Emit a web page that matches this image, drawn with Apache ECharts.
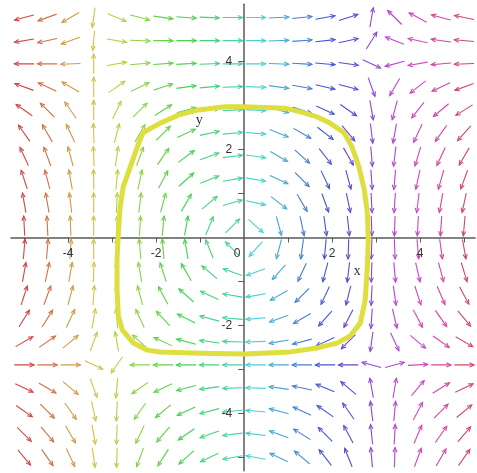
<!DOCTYPE html>
<html>
<head>
<meta charset="utf-8">
<script src="https://cdn.jsdelivr.net/npm/echarts@6/dist/echarts.min.js"></script>
<style>
  html, body { margin: 0; padding: 0; background: #ffffff; }
  #chart { width: 477px; height: 473px; }
</style>
</head>
<body>
<div id="chart"></div>
<script>
// Sample points of the direction field (20 x 20 grid on [-5, 5])
const gridX = [-5, -4.474, -3.947, -3.421, -2.895, -2.368, -1.842, -1.316, -0.789, -0.263,
               0.263, 0.789, 1.316, 1.842, 2.368, 2.895, 3.421, 3.947, 4.474, 5];
const gridY = [5, 4.474, 3.947, 3.421, 2.895, 2.368, 1.842, 1.316, 0.789, 0.263,
               -0.263, -0.789, -1.316, -1.842, -2.368, -2.895, -3.421, -3.947, -4.474, -5];

// Arrow directions in degrees (0 = +x, 90 = +y), one row per gridY value
const fieldAngles = [
  [195, 200, 210, 262, 338, 345, 352, 356, 358, 0, 0, 3, 6, 10, 18, 80, 135, 152, 165, 168],
  [190, 192, 200, 265, 350, 358, 0, 0, 0, 0, 0, 2, 4, 6, 12, 58, 158, 168, 172, 175],
  [180, 180, 182, 90, 10, 5, 4, 3, 2, 0, 0, 358, 357, 355, 352, 335, 195, 190, 185, 182],
  [160, 155, 150, 90, 35, 25, 18, 8, 5, 2, 358, 352, 350, 347, 345, 290, 240, 218, 205, 200],
  [145, 135, 125, 90, 65, 45, 33, 15, 8, 3, 357, 345, 342, 335, 325, 280, 255, 232, 220, 212],
  [125, 120, 115, 92, 75, 60, 45, 25, 12, 5, 355, 338, 330, 322, 310, 277, 260, 245, 235, 228],
  [115, 110, 105, 92, 82, 70, 55, 37, 20, 7, 352, 330, 318, 308, 300, 275, 263, 253, 245, 240],
  [108, 105, 100, 91, 85, 78, 62, 42, 22, 10, 350, 335, 315, 295, 285, 274, 265, 258, 254, 250],
  [100, 100, 97, 90, 87, 83, 75, 60, 40, 16, 348, 322, 300, 290, 282, 273, 266, 263, 260, 258],
  [93, 93, 92, 90, 88, 87, 85, 80, 68, 45, 318, 285, 282, 278, 276, 272, 268, 267, 266, 265],
  [85, 85, 86, 90, 92, 95, 95, 100, 112, 135, 228, 255, 262, 265, 268, 268, 272, 275, 278, 280],
  [80, 78, 80, 88, 93, 100, 108, 120, 140, 160, 200, 228, 245, 255, 263, 268, 275, 283, 285, 287],
  [72, 70, 75, 86, 93, 105, 118, 138, 155, 170, 190, 210, 225, 245, 256, 267, 278, 288, 293, 298],
  [58, 58, 65, 80, 95, 115, 133, 153, 165, 175, 185, 200, 210, 228, 243, 266, 283, 298, 305, 310],
  [30, 35, 40, 70, 100, 138, 155, 165, 172, 178, 182, 190, 195, 205, 225, 262, 295, 320, 325, 330],
  [0, 0, 0, 335, 235, 180, 180, 180, 180, 180, 180, 180, 180, 180, 180, 165, 15, 3, 0, 0],
  [335, 330, 320, 290, 265, 215, 205, 195, 188, 182, 178, 172, 168, 158, 140, 100, 80, 50, 32, 25],
  [325, 315, 305, 282, 267, 235, 220, 205, 195, 185, 175, 165, 155, 145, 125, 97, 85, 62, 45, 40],
  [315, 310, 300, 280, 268, 245, 230, 215, 200, 187, 173, 160, 148, 135, 118, 96, 87, 67, 55, 50],
  [310, 305, 295, 278, 268, 250, 238, 222, 205, 190, 170, 155, 140, 128, 112, 95, 88, 70, 60, 55]
];

// Closed solution curve
const orbitX = [0, -0.43, -1.05, -1.50, -1.91, -2.30, -2.43, -2.59, -2.75, -2.82, -2.86, -2.89, -2.89,
                -2.86, -2.77, -2.52, -2.20, -1.91, -1.00, 0, 1.05, 1.66, 2.11, 2.41, 2.64, 2.75, 2.80,
                2.82, 2.80, 2.73, 2.61, 2.45, 2.27, 1.95, 1.66, 1.30, 0.93, 0];
const orbitY = [2.97, 2.97, 2.90, 2.78, 2.60, 2.38, 2.06, 1.60, 1.15, 0.69, 0.10, -0.51, -1.19,
                -1.78, -2.10, -2.40, -2.56, -2.60, -2.63, -2.65, -2.60, -2.51, -2.40, -2.24, -1.94, -1.42, -0.65,
                -0.06, 0.56, 1.08, 1.60, 2.06, 2.38, 2.60, 2.74, 2.85, 2.94, 2.97];

const xTickLabels = [-4, -2, 0, 2, 4];
const yTickLabels = [-4, -2, 2, 4];
const tickValues = [-5, -4, -3, -2, -1, 1, 2, 3, 4, 5];

// Axis titles and the data point each one sits at
const axisTitles = ['x', 'y'];
const axisTitleAt = [[2.57, -0.78], [-1.02, 2.67]];

const fieldData = [];
gridY.forEach(function (y, j) {
  gridX.forEach(function (x, i) {
    fieldData.push([x, y, fieldAngles[j][i], i]);
  });
});
const orbitData = orbitX.map(function (x, k) { return [x, orbitY[k]]; });

const chart = echarts.init(document.getElementById('chart'), null, { renderer: 'canvas' });

// One arrow of fixed length centred on its grid point, coloured by column
function arrowItem(params, api) {
  const c = api.coord([api.value(0), api.value(1)]);
  const a = api.value(2) * Math.PI / 180;
  const col = api.value(3);
  const half = api.size([0.225, 0])[0];
  const ux = Math.cos(a), uy = -Math.sin(a);
  const x1 = c[0] - ux * half, y1 = c[1] - uy * half;
  const x2 = c[0] + ux * half, y2 = c[1] + uy * half;
  const h = 5, t = 0.42;
  const bx = -ux, by = -uy;
  const l1 = [x2 + h * (bx * Math.cos(t) - by * Math.sin(t)), y2 + h * (bx * Math.sin(t) + by * Math.cos(t))];
  const l2 = [x2 + h * (bx * Math.cos(-t) - by * Math.sin(-t)), y2 + h * (bx * Math.sin(-t) + by * Math.cos(-t))];
  const color = 'hsl(' + (col * 18) + ', 60%, 55%)';
  const style = { stroke: color, lineWidth: 1.1, fill: null };
  return {
    type: 'group',
    children: [
      { type: 'line', shape: { x1: x1, y1: y1, x2: x2, y2: y2 }, style: style },
      { type: 'polyline', shape: { points: [l1, [x2, y2], l2] }, style: style }
    ]
  };
}

const axisColor = '#5a5a5a';
const labelFont = { fontFamily: 'Liberation Sans', fontSize: 12, fill: '#333' };

chart.setOption({
  animation: false,
  backgroundColor: '#ffffff',
  grid: { left: 11, top: 4.3, width: 464.2, height: 466.4, containLabel: false, outerBoundsMode: 'none' },
  xAxis: {
    type: 'value', min: -5.3, max: 5.25,
    axisLine: { onZero: true, lineStyle: { color: axisColor, width: 1.5 } },
    axisTick: { show: true, length: 5, customValues: tickValues, lineStyle: { color: axisColor, width: 1 } },
    axisLabel: { show: false },
    splitLine: { show: false }
  },
  yAxis: {
    type: 'value', min: -5.3, max: 5.3,
    axisLine: { onZero: true, lineStyle: { color: axisColor, width: 1.5 } },
    axisTick: { show: true, length: 6, customValues: tickValues, lineStyle: { color: axisColor, width: 1 } },
    axisLabel: { show: false },
    splitLine: { show: false }
  },
  series: [
    {
      type: 'custom',
      renderItem: arrowItem,
      data: fieldData,
      encode: { x: 0, y: 1 },
      clip: true,
      z: 2
    },
    {
      type: 'line',
      data: orbitData,
      showSymbol: false,
      smooth: false,
      lineStyle: { color: '#dede3e', width: 5, join: 'round' },
      z: 5
    }
  ]
});

// Tick labels and axis titles, positioned from data coordinates
const texts = [];
xTickLabels.forEach(function (v) {
  const p = chart.convertToPixel({ gridIndex: 0 }, [v, 0]);
  texts.push({
    type: 'text', x: p[0] + (v === 0 ? -7 : 0), y: p[1] + 16, z: 10,
    style: Object.assign({ text: String(v), align: 'center', verticalAlign: 'middle' }, labelFont)
  });
});
yTickLabels.forEach(function (v) {
  const p = chart.convertToPixel({ gridIndex: 0 }, [0, v]);
  texts.push({
    type: 'text', x: p[0] - 12, y: p[1], z: 10,
    style: Object.assign({ text: String(v), align: 'right', verticalAlign: 'middle' }, labelFont)
  });
});
axisTitles.forEach(function (t, k) {
  const p = chart.convertToPixel({ gridIndex: 0 }, axisTitleAt[k]);
  texts.push({
    type: 'text', x: p[0], y: p[1], z: 10,
    style: { text: t, fontFamily: 'Liberation Serif', fontSize: 14, fill: '#333', align: 'center', verticalAlign: 'middle' }
  });
});
chart.setOption({ graphic: texts });
</script>
</body>
</html>
